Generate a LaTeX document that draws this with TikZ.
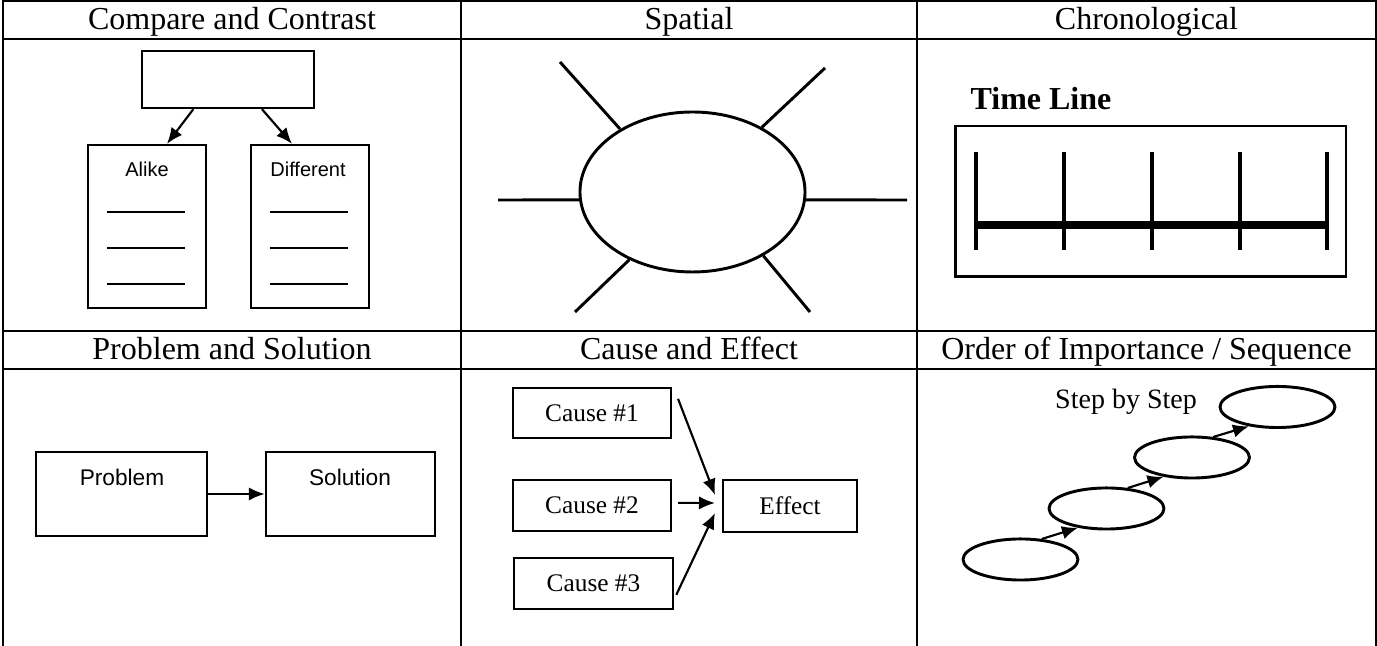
\documentclass[tikz,border=0pt]{standalone}
\usepackage{fontspec}
\setmainfont{Liberation Serif}
\setsansfont{Liberation Sans}
\usetikzlibrary{%
	arrows.meta,%
	shapes
}

\begin{document}
\begin{tikzpicture}[>={Latex[length=6pt,width=5pt]}, x=0.375pt, y=-0.375pt,
		grid/.style={line width=0.75pt},
		head/.style={font=\fontsize{12}{14}\selectfont, inner sep=0pt, anchor=base},
		box/.style={draw, line width=0.9pt, inner sep=0pt},
		oval/.style={draw, ellipse, line width=1.1pt, inner sep=0pt},
		sanstext/.style={font=\sffamily\fontsize{7.5}{9}\selectfont, inner sep=0pt},
		causetext/.style={font=\fontsize{9.5}{11}\selectfont},
		arr/.style={->, line width=0.8pt}]
				\useasboundingbox (0,0) rectangle (1377,646);
				
				% Table
				\draw[grid] (3,646) -- (3,1) -- (1376,1) -- (1376,646);
				\foreach \x in {461,917}
				\draw[grid] (\x,1) -- (\x,646);
				\foreach \y in {39,331,369}
				\draw[grid] (3,\y) -- (1376,\y);
				
				% Headers
				\node[head] (h1) at (232,30) {Compare and Contrast};
				\node[head] (h2) at (689,30) {Spatial};
				\node[head] (h3) at (1146.5,30) {Chronological};
				\node[head] (h4) at (232,360) {Problem and Solution};
				\node[head] (h5) at (689,360) {Cause and Effect};
				\node[head] (h6) at (1146.5,360) {Order of Importance / Sequence};
				
				% Compare and Contrast
				\node[box, minimum width=64.5pt, minimum height=21.4pt] (topic) at (228,79.5) {};
				\node[box, minimum width=44.25pt, minimum height=61.1pt] (alike) at (147,226.5) {};
				\node[box, minimum width=44.25pt, minimum height=61.1pt] (differ) at (310,226.5) {};
				\node[sanstext] (alikelbl) at (147,169) {Alike};
				\node[sanstext] (differlbl) at (308,169) {Different};
				\draw[arr] ([xshift=-13pt]topic.south) -- ([xshift=7.5pt]alike.north);
				\draw[arr] ([xshift=12.75pt]topic.south) -- ([xshift=-6.75pt]differ.north);
				\foreach \y in {212,248,284}
				{
					\draw[line width=0.8pt] (107,\y) -- (185,\y);
					\draw[line width=0.8pt] (270,\y) -- (348,\y);
				}
				
				% Spatial
				\node[oval, minimum width=84.4pt, minimum height=60pt] (place) at (692.5,192) {};
				\coordinate (ul) at (560,62);
				\coordinate (ur) at (825,68);
				\coordinate (lf) at (498,200);
				\coordinate (rt) at (907,200);
				\coordinate (ll) at (575,312);
				\coordinate (lr) at (810,312);
				\foreach \a/\p in {139/ul,43/ur,184/lf,356/rt,227/ll,318/lr}
				\draw[line width=1.1pt] (place.\a) -- (\p);
				
				% Chronological
				\node[font=\bfseries\fontsize{12}{14}\selectfont, inner sep=0pt] (timelbl) at (1041,99) {Time Line};
				\node[box, line width=1.1pt, minimum width=146.6pt, minimum height=56.6pt] (timebox) at (1150.5,201.5) {};
				\draw[line width=3.2pt] (976,225) -- (1327,225);
				\foreach \x in {976,1064,1152,1240,1327}
				\draw[line width=1.2pt] (\x,152) -- (\x,250);
				
				% Problem and Solution
				\node[box, minimum width=64.1pt, minimum height=31.5pt] (problem) at (121.5,494) {};
				\node[box, minimum width=63.4pt, minimum height=31.5pt] (solution) at (350.5,494) {};
				\node[sanstext, font=\sffamily\fontsize{8.5}{10}\selectfont] (problemlbl) at (122,477) {Problem};
				\node[sanstext, font=\sffamily\fontsize{8.5}{10}\selectfont] (solutionlbl) at (350,477) {Solution};
				\draw[arr] (problem) -- (solution);
				
				% Cause and Effect
				\node[box, causetext, minimum width=59.25pt, minimum height=18.75pt] (c1) at (592,413) {Cause \#1};
				\node[box, causetext, minimum width=59.25pt, minimum height=19.1pt] (c2) at (592,505.5) {Cause \#2};
				\node[box, causetext, minimum width=59.6pt, minimum height=19.1pt] (c3) at (593.5,583.5) {Cause \#3};
				\node[box, causetext, minimum width=50.25pt, minimum height=19.5pt] (effect) at (790,506) {Effect};
				\coordinate (tip1) at (715,495);
				\coordinate (tip2) at (715,503);
				\coordinate (tip3) at (715,513);
				\draw[arr] ([xshift=2.2pt]c1.10) -- (tip1);
				\draw[arr] ([xshift=2.2pt,yshift=1pt]c2.east) -- (tip2);
				\draw[arr] ([xshift=0.8pt]c3.352) -- (tip3);
				
				% Order of Importance / Sequence
				\node[font=\fontsize{10.5}{12}\selectfont, inner sep=0pt] (steplbl) at (1126,402) {Step by Step};
				\foreach \i/\x/\y in {1/1020.5/559.5, 2/1106.5/508.5, 3/1192/457.5, 4/1277.5/407}
				\node[oval, minimum width=43.1pt, minimum height=15.4pt] (s\i) at (\x,\y) {};
				\foreach \i/\j in {1/2,2/3,3/4}
				\draw[arr] (s\i.44) -- (s\j.214);
			\end{tikzpicture}
\end{document}
